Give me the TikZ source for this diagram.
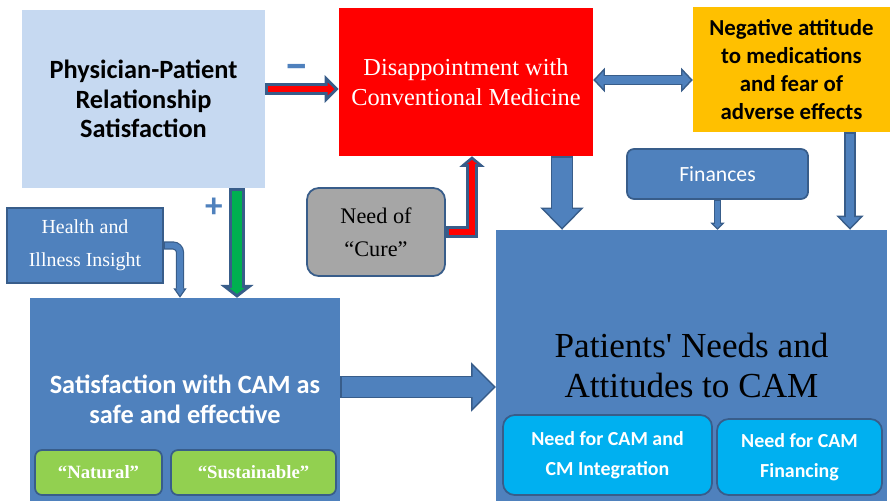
\documentclass[tikz,border=0pt]{standalone}
\usepackage{fontspec}
\usetikzlibrary{arrows.meta}
\newfontfamily\calibri{Carlito}
\newfontfamily\garamond{Liberation Serif}
\definecolor{pprblue}{HTML}{C6D9F1}
\definecolor{camblue}{HTML}{4F81BD}
\definecolor{camborder}{HTML}{385D8A}
\definecolor{disred}{HTML}{FF0000}
\definecolor{negorange}{HTML}{FFC000}
\definecolor{curegray}{HTML}{A6A6A6}
\definecolor{arrowgreen}{HTML}{00B050}
\definecolor{natgreen}{HTML}{92D050}
\definecolor{needcyan}{HTML}{00B0F0}
\tikzset{
  box/.style={inner sep=0pt, align=center, anchor=center},
  rbox/.style={box, draw=camborder, line width=1.5pt, rounded corners=6pt},
  sign/.style={text=camblue, font=\calibri\bfseries\fontsize{42}{42}\selectfont},
  barrow/.style n args={5}{
    preaction={draw=camborder, line width=#2, shorten <=0pt, shorten >=0pt,
      -{Triangle[width=#3, length=#4, line width=#5, fill=#1]}},
    draw=#1, line width=#2-2*#5, shorten <=#5, shorten >=#4-1.6*#5},
  dbarrow/.style n args={5}{
    preaction={draw=camborder, line width=#2, shorten <=0pt, shorten >=0pt,
      {Triangle[width=#3, length=#4, line width=#5, fill=#1]}-{Triangle[width=#3, length=#4, line width=#5, fill=#1]}},
    draw=#1, line width=#2-2*#5, shorten <=#4-1.6*#5, shorten >=#4-1.6*#5}
}
\begin{document}
\begin{tikzpicture}[x=0.03cm, y=-0.03cm]
  \useasboundingbox (0,0) rectangle (893,501);
  \node[box, fill=pprblue, minimum width=7.29cm, minimum height=5.34cm,
    font=\calibri\bfseries\fontsize{22.5}{25}\selectfont] (ppr) at (143.5,99)
    {Physician-Patient\\Relationship\\Satisfaction};
  \node[box, fill=disred, text=white, minimum width=7.62cm, minimum height=4.44cm,
    font=\garamond\fontsize{20.8}{25.5}\selectfont] (dis) at (466,82)
    {Disappointment with\\Conventional Medicine};
  \node[box, fill=negorange, minimum width=5.91cm, minimum height=3.75cm,
    font=\calibri\bfseries\fontsize{19.5}{24}\selectfont] (neg) at (791.5,69.5)
    {Negative attitude\\to medications\\and fear of\\adverse effects};
  \node[rbox, fill=camblue, text=white, minimum width=5.43cm, minimum height=1.5cm,
    font=\calibri\fontsize{18.5}{20}\selectfont] (fin) at (717.5,174) {Finances};
  \node[rbox, fill=curegray, rounded corners=10pt, minimum width=4.14cm, minimum height=2.64cm,
    font=\garamond\fontsize{19}{28}\selectfont] (cure) at (376,232) {Need of\\“Cure”};
  \node[box, draw=camborder, line width=1.5pt, fill=camblue, text=white, minimum width=4.68cm, minimum height=2.25cm,
    font=\garamond\fontsize{17}{28}\selectfont] (health) at (85,245.5) {Health and\\Illness Insight};
  \node[box, fill=camblue, text=white, minimum width=9.3cm, minimum height=6.09cm,
    font=\calibri\bfseries\fontsize{22.5}{25.5}\selectfont] (sat) at (185,399.5)
    {Satisfaction with CAM as\\safe and effective};
  \node[rbox, fill=natgreen, text=white, minimum width=3.81cm, minimum height=1.35cm,
    font=\garamond\bfseries\fontsize{16}{18}\selectfont] (nat) at (98.5,472.5) {“Natural”};
  \node[rbox, fill=natgreen, text=white, minimum width=4.95cm, minimum height=1.35cm,
    font=\garamond\bfseries\fontsize{16}{18}\selectfont] (sus) at (253.5,472.5) {“Sustainable”};
  \node[box, fill=camblue, minimum width=11.73cm, minimum height=8.13cm] (pat) at (691.5,365.5) {};
  \node[box, font=\garamond\fontsize{30}{34}\selectfont] (pattext) at (691.5,365.5)
    {Patients' Needs and\\Attitudes to CAM};
  \node[rbox, fill=needcyan, text=white, rounded corners=10pt, minimum width=6.27cm, minimum height=2.4cm,
    font=\calibri\bfseries\fontsize{17}{25.5}\selectfont] (integ) at (607.5,455)
    {Need for CAM and\\CM Integration};
  \node[rbox, fill=needcyan, text=white, rounded corners=10pt, minimum width=4.95cm, minimum height=2.28cm,
    font=\calibri\bfseries\fontsize{17}{25.5}\selectfont] (finan) at (799.5,457)
    {Need for CAM\\Financing};
  \node[sign] (minus) at (297,72) {–};
  \node[sign, font=\calibri\bfseries\fontsize{30}{30}\selectfont] (plus) at (214,208) {+};
  \draw[barrow={disred}{10pt}{23pt}{12pt}{2.5pt}] (ppr.east |- 0,89) -- (dis.west |- 0,89);
  \draw[dbarrow={camblue}{8.5pt}{21pt}{10pt}{1.2pt}] (dis.east |- 0,80) -- (neg.west |- 0,80);
  \draw[barrow={camblue}{19pt}{37pt}{19pt}{1.2pt}] (dis.south -| 562,0) -- (pat.north -| 562,0);
  \draw[barrow={camblue}{10pt}{23pt}{12pt}{1.2pt}] (neg.south -| 850,0) -- (pat.north -| 850,0);
  \draw[barrow={camblue}{6.5pt}{12pt}{6pt}{1pt}] (fin.south) -- (pat.north -| fin.south);
  \draw[barrow={disred}{10pt}{21pt}{9pt}{2.5pt}] (cure.east) -| (dis.south -| 472,0);
  \draw[barrow={arrowgreen}{13pt}{28pt}{11pt}{2.5pt}] (ppr.south -| 237,0) -- (sat.north -| 237,0);
  \draw[barrow={camblue}{7pt}{11pt}{8pt}{1pt}, rounded corners=6] (health.east) -| (sat.north -| 180,0);
  \draw[barrow={camblue}{19pt}{42pt}{21pt}{1.2pt}] (sat.east |- 0,387) -- (pat.west |- 0,387);
\end{tikzpicture}
\end{document}
